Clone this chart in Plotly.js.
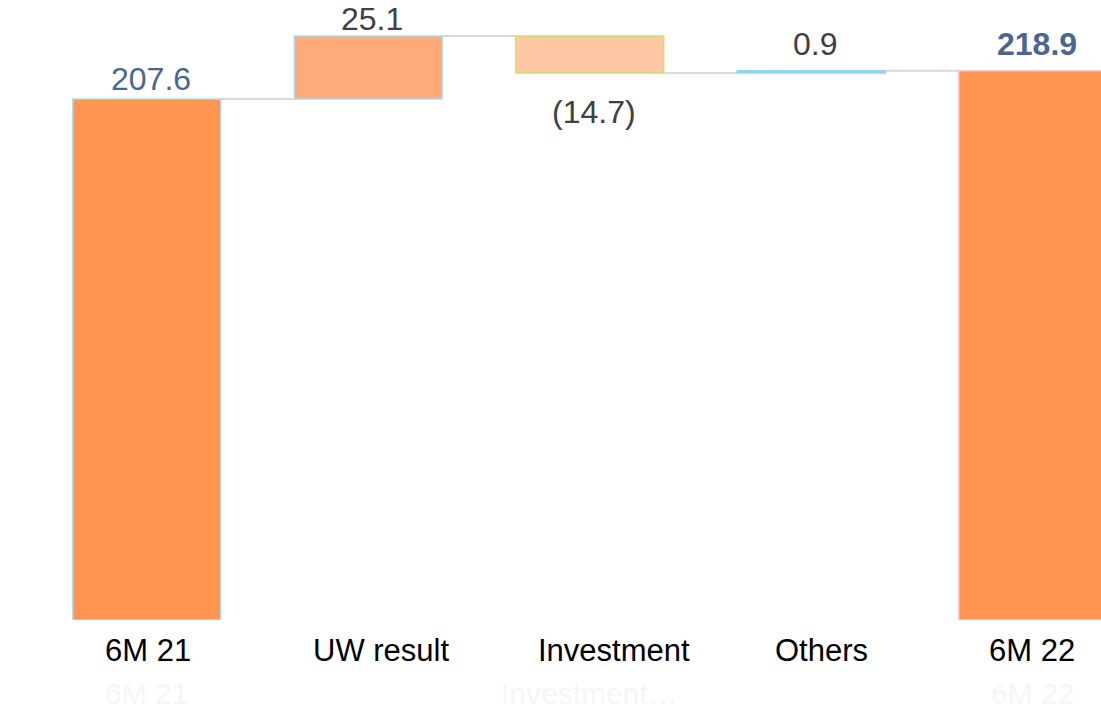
<!DOCTYPE html>
<html>
<head>
<meta charset="utf-8">
<script src="https://cdn.plot.ly/plotly-3.0.1.min.js"></script>
<style>html,body{margin:0;padding:0;background:#fff;}#chart{width:1101px;height:710px;}</style>
</head>
<body>
<div id="chart"></div>
<script>
// ---- data ----
const categories = ['6M 21', 'UW result', 'Investment', 'Others', '6M 22'];
const values = [207.6, 25.1, -14.7, 0.9, 218.9];
const measures = ['absolute', 'relative', 'relative', 'relative', 'absolute'];
const valueLabels = ['207.6', '25.1', '(14.7)', '0.9', '218.9'];
const ghostLabels = ['6M 21', '', 'Investment\u2026', '', '6M 22'];

// ---- styles ----
const fillColors = ['#FF9551', '#FFAA78', '#FFC8A5', '#8FD6F7', '#FF9551'];
const lineColors = ['#A8DDF5', '#A8DDF5', '#CDE06E', '#8FD6F7', '#F2C8D8'];
const labelColors = ['#4A6690', '#404040', '#404040', '#404040', '#4A6690'];
const labelBold = [false, false, false, false, true];
const labelShift = [0, -3, -19, 7, 7];
const catShift = [1, 13, 24, 10, -1];
const BAR_W = 0.668;
const FONT = 'Arial, "Liberation Sans", Helvetica, sans-serif';

// running totals -> bar bases / heights
let running = 0;
const bases = [], heights = [], levels = [];
values.forEach((v, i) => {
  if (measures[i] === 'absolute') { bases.push(0); heights.push(v); running = v; }
  else {
    const prev = running; running += v;
    bases.push(Math.min(prev, running)); heights.push(Math.abs(v));
  }
  levels.push(running);
});

const annotations = [];
values.forEach((v, i) => {
  const neg = measures[i] === 'relative' && v < 0;
  annotations.push({
    x: categories[i], y: neg ? bases[i] : bases[i] + heights[i],
    xref: 'x', yref: 'y',
    text: labelBold[i] ? '<b>' + valueLabels[i] + '</b>' : valueLabels[i],
    showarrow: false,
    yanchor: neg ? 'top' : 'bottom',
    yshift: labelShift[i], xshift: 4,
    font: {family: FONT, size: 32, color: labelColors[i]}
  });
  annotations.push({
    x: categories[i], y: 0, xref: 'x', yref: 'paper',
    text: categories[i], showarrow: false, yanchor: 'middle',
    yshift: -30, xshift: catShift[i],
    font: {family: FONT, size: 31, color: '#000000'}
  });
  if (ghostLabels[i]) {
    annotations.push({
      x: categories[i], y: 0, xref: 'x', yref: 'paper',
      text: ghostLabels[i], showarrow: false, yanchor: 'middle', yshift: -73,
      font: {family: FONT, size: 30, color: '#F6F6F6'}
    });
  }
});

// connectors between bars
const shapes = [];
for (let i = 0; i < categories.length - 1; i++) {
  shapes.push({
    type: 'line', xref: 'x', yref: 'y',
    x0: i + BAR_W / 2, x1: i + 1 - BAR_W / 2, y0: levels[i], y1: levels[i],
    line: {color: '#D9D9D9', width: 2}, layer: 'below'
  });
}

const trace = {
  type: 'bar',
  x: categories,
  y: heights,
  base: bases,
  width: categories.map(() => BAR_W),
  marker: {color: fillColors, line: {color: lineColors, width: 1.5}},
  hoverinfo: 'skip'
};

const layout = {
  width: 1101, height: 710,
  margin: {l: 36, r: 0, t: 0, b: 90},
  paper_bgcolor: '#FFFFFF', plot_bgcolor: '#FFFFFF',
  showlegend: false,
  xaxis: {
    type: 'category', range: [-0.5, 4.308],
    showgrid: false, zeroline: false, showline: false, ticks: '',
    showticklabels: false
  },
  yaxis: {
    range: [0, 247.05], showgrid: false, zeroline: false, showline: false,
    showticklabels: false, ticks: ''
  },
  shapes: shapes,
  annotations: annotations
};

Plotly.newPlot('chart', [trace], layout, {displayModeBar: false, staticPlot: true});
</script>
</body>
</html>
